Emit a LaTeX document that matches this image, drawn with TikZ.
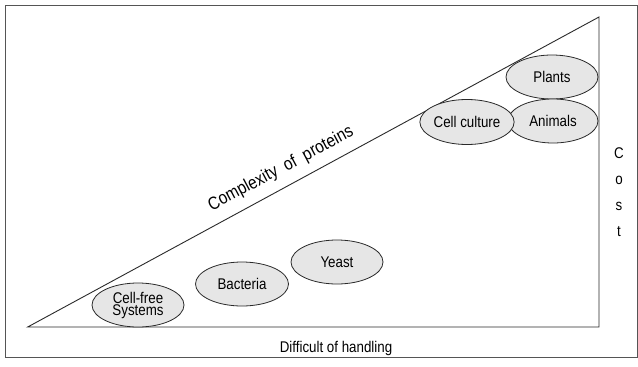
\documentclass[tikz,border=0pt]{standalone}
\usepackage{fontspec}
\setmainfont{Liberation Sans}[FakeStretch=0.86]
\usetikzlibrary{shapes.geometric}
\definecolor{ellfill}{HTML}{E6E6E6}
\definecolor{linegray}{HTML}{2A2A2A}
\tikzset{
  org/.style={ellipse, draw=linegray, line width=0.8pt, fill=ellfill, inner sep=0pt,
    minimum width=92pt, minimum height=44pt, align=center,
    font=\fontsize{15.5}{12}\selectfont},
  lbl/.style={font=\fontsize{15.5}{16}\selectfont, inner sep=0pt}
}
\begin{document}
\begin{tikzpicture}[x=1pt,y=-1pt]
\useasboundingbox (0,0) rectangle (638,367);
\fill[white] (0,0) rectangle (638,367);
\draw[draw=linegray!80, line width=1pt] (5,5) rectangle (637,357);
% triangle
\coordinate (A) at (27.7,327);
\coordinate (B) at (599,327);
\coordinate (C) at (599,17);
\draw[linegray, line width=0.9pt] (A) -- (B) -- (C) -- cycle;
% ellipses
\node[org] (plants) at (552,77) {Plants};
\node[org, minimum width=90pt] (animals) at (553,121) {Animals};
\node[org, minimum width=80pt, minimum height=45pt] (cellculture) at (467,122) {Cell culture};
\node[org] (yeast) at (337,262) {Yeast};
\node[org, minimum width=93pt] (bacteria) at (242,284) {Bacteria};
\node[org] (cellfree) at (138,305) {Cell-free\\Systems};
% labels
\node[lbl, rotate=28, font=\fontsize{18}{18}\selectfont] (complexity) at (281,169) {Complexity\ \ of\ \ proteins};
\node[lbl] (handling) at (336,348) {Difficult of handling};
\node[lbl, align=center] (cost) at (619,192) {C\\[10pt]o\\[10pt]s\\[10pt]t};
\end{tikzpicture}
\end{document}
